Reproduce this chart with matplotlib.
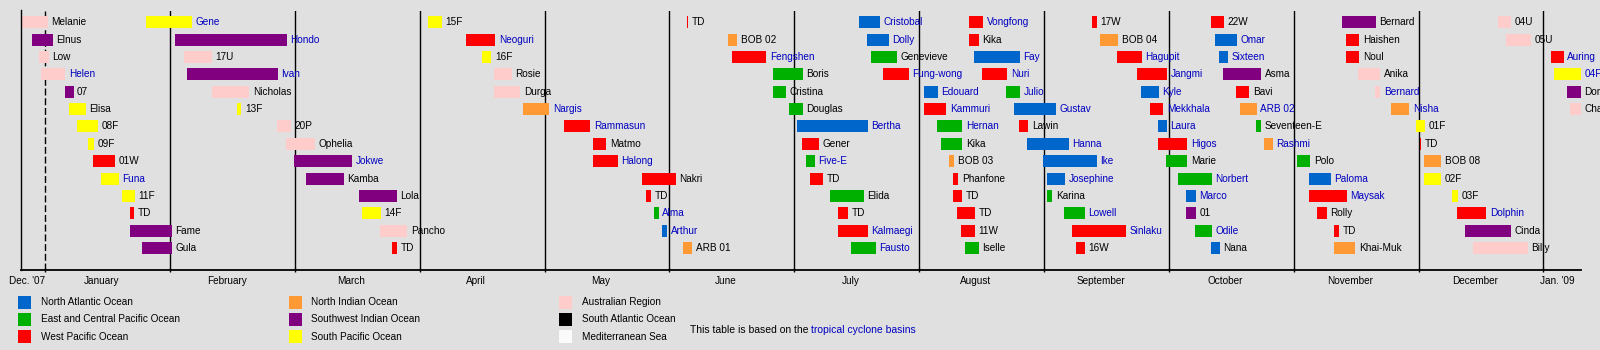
import matplotlib
matplotlib.use("Agg")
import matplotlib.pyplot as plt
from matplotlib.patches import Rectangle

plt.rcParams['font.family'] = ['Liberation Sans', 'DejaVu Sans']

# storms in order of formation; day 0 = 1 Jan 2008
names = [
    "Melanie", "Elnus", "Low", "Helen", "07", "Elisa", "08F", "09F", "01W", "Funa", "11F", "TD", "Fame", "Gula",
    "Gene", "Hondo", "17U", "Ivan", "Nicholas", "13F", "20P", "Ophelia", "Jokwe", "Kamba", "Lola", "14F", "Pancho", "TD",
    "15F", "Neoguri", "16F", "Rosie", "Durga", "Nargis", "Rammasun", "Matmo", "Halong", "Nakri", "TD", "Alma", "Arthur", "ARB 01",
    "TD", "BOB 02", "Fengshen", "Boris", "Cristina", "Douglas", "Bertha", "Gener", "Five-E", "TD", "Elida", "TD", "Kalmaegi", "Fausto",
    "Cristobal", "Dolly", "Genevieve", "Fung-wong", "Edouard", "Kammuri", "Hernan", "Kika", "BOB 03", "Phanfone", "TD", "TD", "11W", "Iselle",
    "Vongfong", "Kika", "Fay", "Nuri", "Julio", "Gustav", "Lawin", "Hanna", "Ike", "Josephine", "Karina", "Lowell", "Sinlaku", "16W",
    "17W", "BOB 04", "Hagupit", "Jangmi", "Kyle", "Mekkhala", "Laura", "Higos", "Marie", "Norbert", "Marco", "01", "Odile", "Nana",
    "22W", "Omar", "Sixteen", "Asma", "Bavi", "ARB 02", "Seventeen-E", "Rashmi", "Polo", "Paloma", "Maysak", "Rolly", "TD", "Khai-Muk",
    "Bernard", "Haishen", "Noul", "Anika", "Bernard", "Nisha", "01F", "TD", "BOB 08", "02F", "03F", "Dolphin", "Cinda", "Billy",
    "04U", "05U", "Auring", "04F", "Dominic", "Charlotte",
]
starts = [
    -6.0, -3.2, -1.5, -1.1, 4.8, 5.7, 7.7, 10.5, 11.7, 13.6, 18.7, 20.7, 20.7, 23.6,
    24.6, 31.7, 33.9, 34.6, 40.7, 46.8, 56.6, 58.8, 60.8, 63.7, 76.6, 77.5, 81.8, 84.8,
    93.6, 102.8, 106.7, 109.6, 109.6, 116.7, 126.7, 133.8, 133.8, 145.8, 146.8, 148.7, 150.7, 155.7,
    156.7, 166.8, 167.8, 177.8, 177.8, 181.7, 183.6, 184.9, 185.9, 186.8, 191.7, 193.7, 193.7, 196.8,
    198.8, 200.8, 201.7, 204.7, 214.7, 214.7, 217.9, 218.8, 220.8, 221.8, 221.8, 222.7, 223.7, 224.7,
    225.7, 225.7, 226.9, 228.9, 234.7, 236.7, 237.9, 239.8, 243.7, 244.7, 244.7, 248.9, 250.8, 251.8,
    255.7, 257.7, 261.8, 266.7, 267.7, 269.9, 271.9, 271.9, 273.8, 276.7, 278.7, 278.7, 280.9, 284.8,
    284.8, 285.8, 286.7, 287.7, 290.9, 291.9, 295.8, 297.7, 305.8, 308.7, 308.7, 310.7, 314.9, 314.9,
    316.8, 317.8, 317.8, 320.7, 324.9, 328.8, 334.9, 335.9, 336.8, 336.8, 343.7, 344.9, 346.9, 348.8,
    354.9, 356.9, 367.9, 368.6, 371.8, 372.5,
]
ends = [
    0.6, 1.8, 0.8, 4.9, 6.9, 9.9, 12.8, 11.9, 17.0, 18.0, 21.9, 21.8, 30.9, 30.9,
    35.8, 59.0, 40.7, 56.8, 49.8, 47.9, 60.0, 65.9, 74.9, 72.9, 85.9, 82.0, 88.4, 85.9,
    96.9, 109.9, 109.0, 114.0, 116.0, 123.1, 133.1, 137.0, 139.9, 154.1, 148.0, 149.9, 151.9, 158.0,
    157.0, 169.0, 176.1, 185.1, 181.0, 185.1, 201.0, 189.0, 188.0, 190.0, 200.0, 196.1, 201.0, 202.9,
    203.9, 206.1, 208.1, 211.0, 218.1, 220.1, 224.0, 224.0, 222.0, 223.0, 224.0, 227.1, 227.1, 228.1,
    229.1, 228.1, 238.1, 235.0, 238.1, 246.9, 240.1, 250.1, 256.9, 249.1, 246.0, 254.0, 264.0, 254.0,
    256.9, 262.1, 267.9, 274.0, 272.1, 273.1, 274.0, 279.0, 279.0, 285.0, 281.1, 281.1, 285.0, 287.0,
    288.0, 291.1, 288.9, 297.0, 294.1, 296.0, 297.0, 299.9, 309.0, 314.1, 318.0, 313.1, 316.1, 320.0,
    325.1, 321.0, 321.0, 326.1, 326.1, 333.2, 337.1, 336.1, 341.0, 341.0, 345.2, 352.0, 358.1, 362.2,
    358.1, 363.0, 371.0, 375.2, 375.2, 375.2,
]
basins = [
    "AUS", "SWIO", "AUS", "AUS", "SWIO", "SPAC", "SPAC", "SPAC", "WPAC", "SPAC", "SPAC", "WPAC", "SWIO", "SWIO",
    "SPAC", "SWIO", "AUS", "SWIO", "AUS", "SPAC", "AUS", "AUS", "SWIO", "SWIO", "SWIO", "SPAC", "AUS", "WPAC",
    "SPAC", "WPAC", "SPAC", "AUS", "AUS", "NIO", "WPAC", "WPAC", "WPAC", "WPAC", "WPAC", "EPAC", "NATL", "NIO",
    "WPAC", "NIO", "WPAC", "EPAC", "EPAC", "EPAC", "NATL", "WPAC", "EPAC", "WPAC", "EPAC", "WPAC", "WPAC", "EPAC",
    "NATL", "NATL", "EPAC", "WPAC", "NATL", "WPAC", "EPAC", "EPAC", "NIO", "WPAC", "WPAC", "WPAC", "WPAC", "EPAC",
    "WPAC", "WPAC", "NATL", "WPAC", "EPAC", "NATL", "WPAC", "NATL", "NATL", "NATL", "EPAC", "EPAC", "WPAC", "WPAC",
    "WPAC", "NIO", "WPAC", "WPAC", "NATL", "WPAC", "NATL", "WPAC", "EPAC", "EPAC", "NATL", "SWIO", "EPAC", "NATL",
    "WPAC", "NATL", "NATL", "SWIO", "WPAC", "NIO", "EPAC", "NIO", "EPAC", "NATL", "WPAC", "WPAC", "WPAC", "NIO",
    "SWIO", "WPAC", "WPAC", "AUS", "AUS", "NIO", "SPAC", "WPAC", "NIO", "SPAC", "SPAC", "WPAC", "SWIO", "AUS",
    "AUS", "AUS", "WPAC", "SPAC", "SWIO", "AUS",
]
linked = [
    0, 0, 0, 1, 0, 0, 0, 0, 0, 1, 0, 0, 0, 0,
    1, 1, 0, 1, 0, 0, 0, 0, 1, 0, 0, 0, 0, 0,
    0, 1, 0, 0, 0, 1, 1, 0, 1, 0, 0, 1, 1, 0,
    0, 0, 1, 0, 0, 0, 1, 0, 1, 0, 0, 0, 1, 1,
    1, 1, 0, 1, 1, 1, 1, 0, 0, 0, 0, 0, 0, 0,
    1, 0, 1, 1, 1, 1, 0, 1, 1, 1, 0, 1, 1, 0,
    0, 0, 1, 1, 1, 1, 1, 1, 0, 1, 1, 0, 1, 0,
    0, 1, 1, 0, 0, 1, 0, 1, 0, 1, 1, 0, 0, 0,
    0, 0, 0, 0, 1, 1, 0, 0, 0, 0, 0, 1, 0, 0,
    0, 0, 1, 1, 0, 0,
]

basin_codes = ["NATL", "EPAC", "WPAC", "NIO", "SWIO", "SPAC", "AUS", "SATL", "MED"]
basin_labels = ["North Atlantic Ocean", "East and Central Pacific Ocean", "West Pacific Ocean",
                "North Indian Ocean", "Southwest Indian Ocean", "South Pacific Ocean",
                "Australian Region", "South Atlantic Ocean", "Mediterranean Sea"]
basin_colors = ["#0066cc", "#00b000", "#ff0000", "#ff9933", "#800080", "#ffff00",
                "#ffcccc", "#000000", "#fafafa"]

month_labels = ["Dec. '07", "January", "February", "March", "April", "May", "June", "July",
                "August", "September", "October", "November", "December", "Jan. '09"]

BG = "#e0e0e0"
LINK = "#0000c0"
NROWS = 14
MONTH = 30.5  # equal-width months on the scale

fig = plt.figure(figsize=(16, 3.5), dpi=100, facecolor=BG)
W, H = 1600.0, 350.0
ax = fig.add_axes([20.7 / W, 80.3 / H, (1581 - 20.7) / W, (269.7 - 10.5) / H])
ax.set_facecolor(BG)
ax.set_xlim(-6.0, 375.2)
ax.set_ylim(NROWS - 1 + 1.25, -0.68)

color_of = dict(zip(basin_codes, basin_colors))
rows = [i % NROWS for i in range(len(names))]
widths = [e - s for s, e in zip(starts, ends)]
ax.barh(rows, widths, left=starts, height=0.69,
        color=[color_of[b] for b in basins], linewidth=0, zorder=2)

for name, e, r, lk in zip(names, ends, rows, linked):
    ax.annotate(name, (e, r), xytext=(2.6, 0), textcoords='offset points',
                ha='left', va='center', fontsize=7.2,
                color=LINK if lk else 'black', zorder=3, annotation_clip=False)

# month grid
for k in range(13):
    ax.axvline(k * MONTH, color='black', lw=1.0, zorder=1,
               ls=(0, (5, 2)) if k == 0 else '-')

for side in ['top', 'right']:
    ax.spines[side].set_visible(False)
ax.spines['left'].set_linewidth(1.0)
ax.spines['bottom'].set_linewidth(1.3)
ax.set_yticks([])
ax.set_xticks([k * MONTH for k in range(13)])
ax.tick_params(axis='x', direction='inout', length=3, width=1, labelbottom=False)

tr = ax.get_xaxis_transform()
ly = -11.3 / (269.7 - 10.5)
ax.text(0, ly, month_labels[0], transform=tr, ha='right', va='center', fontsize=7.2)
for k, lab in enumerate(month_labels[1:-1]):
    ax.text(k * MONTH + 13.8, ly, lab, transform=tr, ha='center', va='center', fontsize=7.2)
ax.text(12 * MONTH - 0.8, ly, month_labels[-1], transform=tr, ha='left', va='center', fontsize=7.2)

# legend, three columns
for i, (lab, col) in enumerate(zip(basin_labels, basin_colors)):
    c, r = divmod(i, 3)
    x0 = 18.4 + 270.5 * c
    yc = 302 + 17.3 * r
    fig.add_artist(Rectangle((x0 / W, 1 - (yc + 6.5) / H), 13 / W, 13 / H,
                             transform=fig.transFigure, facecolor=col, edgecolor='none'))
    fig.text((x0 + 22.4) / W, 1 - yc / H, lab, ha='left', va='center', fontsize=7.2)

t1 = fig.text(690 / W, 1 - 329.6 / H, "This table is based on the ", ha='left', va='center', fontsize=7.45)
ax.annotate("tropical cyclone basins", xy=(1, 0), xycoords=t1, ha='left', va='bottom',
            fontsize=7.45, color=LINK, annotation_clip=False)

fig.savefig("out.png", dpi=100, facecolor=BG)
